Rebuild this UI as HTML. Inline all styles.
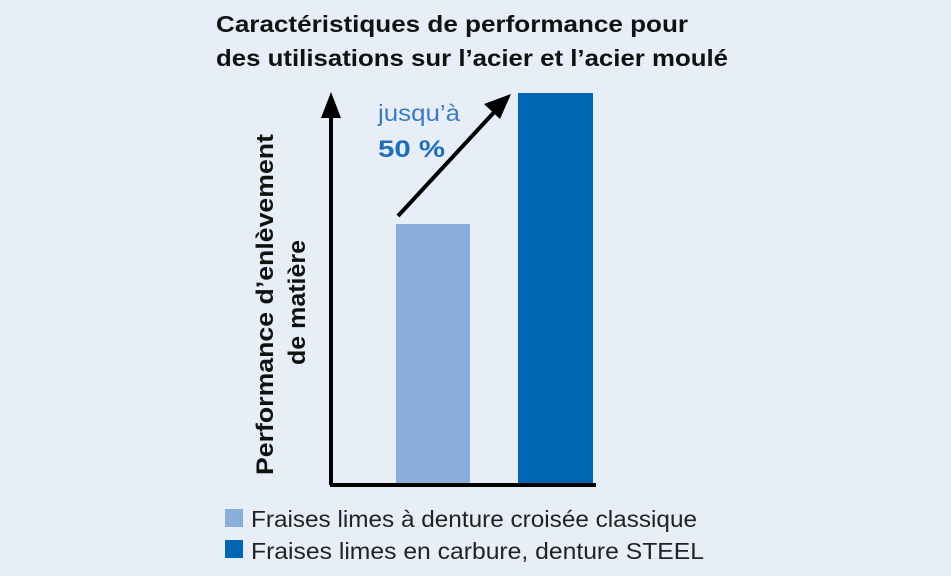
<!DOCTYPE html>
<html><head><meta charset="utf-8"><style>
body{margin:0;width:951px;height:576px;background:#e8eef8;overflow:hidden;font-family:"Liberation Sans",sans-serif}
</style></head><body>
<svg width="951" height="576" viewBox="0 0 951 576" xmlns="http://www.w3.org/2000/svg" style="position:absolute;left:0;top:0">
<text x="216" y="32" font-size="23" font-weight="bold" fill="#111" textLength="472" lengthAdjust="spacingAndGlyphs">Caractéristiques de performance pour</text>
<text x="216" y="66" font-size="23" font-weight="bold" fill="#111" textLength="512" lengthAdjust="spacingAndGlyphs">des utilisations sur l’acier et l’acier moulé</text>
<rect x="396" y="224" width="74" height="261" fill="#8aaedb"/>
<rect x="518" y="93" width="75" height="392" fill="#0066b3"/>
<path d="M331 485 V110 M330 485 H596" stroke="#000" stroke-width="4" fill="none"/>
<polygon points="331,92 321,118 341,118" fill="#000"/>
<line x1="398" y1="216" x2="498" y2="108" stroke="#000" stroke-width="4"/>
<polygon points="511,94 484,104 500,119" fill="#000"/>
<text x="378" y="121" font-size="23" fill="#3a7cc2" textLength="82" lengthAdjust="spacingAndGlyphs">jusqu’à</text>
<text x="378" y="157" font-size="24" font-weight="bold" fill="#1f6fb8" textLength="67" lengthAdjust="spacingAndGlyphs">50 %</text>
<g transform="translate(273,305) rotate(-90)"><text x="-170" y="0" font-size="24" font-weight="bold" fill="#111" textLength="341" lengthAdjust="spacingAndGlyphs">Performance d’enlèvement</text></g>
<g transform="translate(305,303) rotate(-90)"><text x="-62" y="0" font-size="24" font-weight="bold" fill="#111" textLength="125" lengthAdjust="spacingAndGlyphs">de matière</text></g>
<rect x="225" y="509" width="18" height="18" fill="#8aaedb"/>
<rect x="225" y="540" width="18" height="18" fill="#0066b3"/>
<text x="251" y="527" font-size="23" fill="#222" textLength="446" lengthAdjust="spacingAndGlyphs">Fraises limes à denture croisée classique</text>
<text x="251" y="559" font-size="23" fill="#222" textLength="453" lengthAdjust="spacingAndGlyphs">Fraises limes en carbure, denture STEEL</text>
</svg>
</body></html>
